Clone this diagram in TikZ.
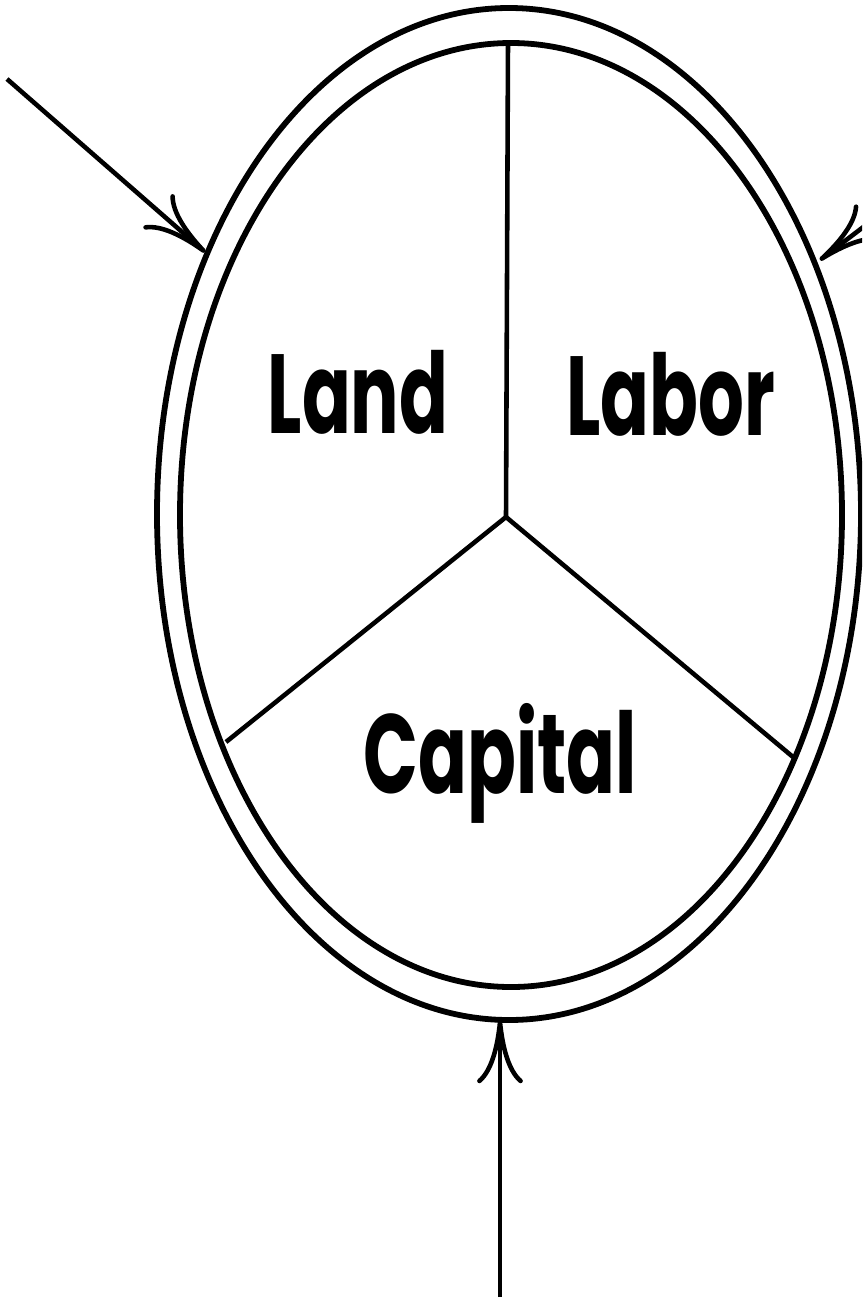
\documentclass[tikz,border=0pt]{standalone}
\usepackage{fontspec}
\usetikzlibrary{arrows.meta}
\newfontfamily\labelfont{Poppins}

\tikzset{
    ring/.style={line width=3.3pt},
    spoke/.style={line width=2.6pt},
    inflow/.style={line width=2.6pt, -{To[length=36pt,width=26pt]}},
    factor/.style={anchor=base, inner sep=0pt, font=\labelfont\bfseries\fontsize{64}{64}\selectfont}
}

\begin{document}
\begin{tikzpicture}[x=0.02cm, y=-0.02cm]
        \clip (0,0) rectangle (862,1298);
        \fill[white] (0,0) rectangle (862,1298);
        % the two rings
        \draw[ring] (509,514) ellipse [x radius=352, y radius=506];
        \draw[ring] (511,515) ellipse [x radius=331, y radius=472];
        % the three sectors
        \coordinate (hub) at (506,517);
        \coordinate (top) at (508,43);
        \coordinate (lowleft) at (226,742);
        \coordinate (lowright) at (793,757);
        \draw[spoke] (hub) -- (top);
        \draw[spoke] (hub) -- (lowleft);
        \draw[spoke] (hub) -- (lowright);
        \node[factor] (land) at (358,433) {\scalebox{0.64}[1]{Land}};
        \node[factor] (labor) at (671,435) {\scalebox{0.64}[1]{Labor}};
        \node[factor] (capital) at (500,793) {\scalebox{0.64}[1]{Capital}};
        % arrows coming in
        \coordinate (fromleft) at (7,79);
        \coordinate (atleft) at (205,252);
        \coordinate (fromright) at (946,164);
        \coordinate (atright) at (820,260);
        \coordinate (frombelow) at (500,1297);
        \coordinate (atbottom) at (500,1020);
        \draw[inflow] (fromleft) -- (atleft);
        \draw[inflow] (fromright) -- (atright);
        \draw[inflow] (frombelow) -- (atbottom);
    \end{tikzpicture}
\end{document}
